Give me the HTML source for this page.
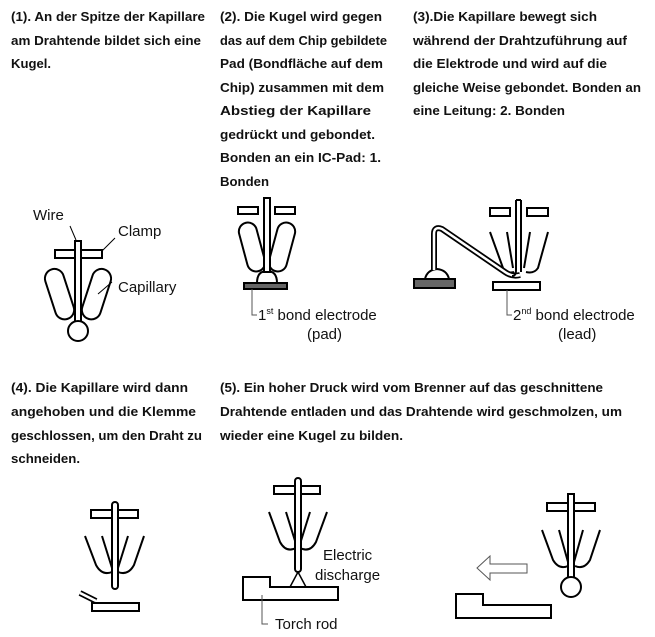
<!DOCTYPE html>
<html><head><meta charset="utf-8"><style>
html,body{margin:0;padding:0;background:#fff;width:655px;height:637px;overflow:hidden}
svg{display:block}
.t{font-family:"Liberation Sans",sans-serif;font-weight:bold;font-size:13px;fill:#111}
.l{font-family:"Liberation Sans",sans-serif;font-size:15px;fill:#111}
</style></head><body>
<svg width="655" height="637" viewBox="0 0 655 637" xmlns="http://www.w3.org/2000/svg">
<g class="t" >
<text x="11" y="21" textLength="194" lengthAdjust="spacingAndGlyphs" class="t">(1). An der Spitze der Kapillare</text>
<text x="11" y="45" textLength="190" lengthAdjust="spacingAndGlyphs" class="t">am Drahtende bildet sich eine</text>
<text x="11" y="68" textLength="40" lengthAdjust="spacingAndGlyphs" class="t">Kugel.</text>

<text x="220" y="21" textLength="162" lengthAdjust="spacingAndGlyphs" class="t">(2). Die Kugel wird gegen</text>
<text x="220" y="45" textLength="167" lengthAdjust="spacingAndGlyphs" class="t">das auf dem Chip gebildete</text>
<text x="220" y="68" textLength="163" lengthAdjust="spacingAndGlyphs" class="t">Pad (Bondfläche auf dem</text>
<text x="220" y="92" textLength="164" lengthAdjust="spacingAndGlyphs" class="t">Chip) zusammen mit dem</text>
<text x="220" y="115" textLength="151" lengthAdjust="spacingAndGlyphs" class="t">Abstieg der Kapillare</text>
<text x="220" y="139" textLength="155" lengthAdjust="spacingAndGlyphs" class="t">gedrückt und gebondet.</text>
<text x="220" y="162" textLength="161" lengthAdjust="spacingAndGlyphs" class="t">Bonden an ein IC-Pad: 1.</text>
<text x="220" y="186" textLength="49" lengthAdjust="spacingAndGlyphs" class="t">Bonden</text>

<text x="413" y="21" textLength="184" lengthAdjust="spacingAndGlyphs" class="t">(3).Die Kapillare bewegt sich</text>
<text x="413" y="45" textLength="214" lengthAdjust="spacingAndGlyphs" class="t">während der Drahtzuführung auf</text>
<text x="413" y="68" textLength="194" lengthAdjust="spacingAndGlyphs" class="t">die Elektrode und wird auf die</text>
<text x="413" y="92" textLength="228" lengthAdjust="spacingAndGlyphs" class="t">gleiche Weise gebondet. Bonden an</text>
<text x="413" y="115" textLength="152" lengthAdjust="spacingAndGlyphs" class="t">eine Leitung: 2. Bonden</text>

<text x="11" y="392" textLength="177" lengthAdjust="spacingAndGlyphs" class="t">(4). Die Kapillare wird dann</text>
<text x="11" y="416" textLength="185" lengthAdjust="spacingAndGlyphs" class="t">angehoben und die Klemme</text>
<text x="11" y="440" textLength="191" lengthAdjust="spacingAndGlyphs" class="t">geschlossen, um den Draht zu</text>
<text x="11" y="463" textLength="69" lengthAdjust="spacingAndGlyphs" class="t">schneiden.</text>

<text x="220" y="392" textLength="383" lengthAdjust="spacingAndGlyphs" class="t">(5). Ein hoher Druck wird vom Brenner auf das geschnittene</text>
<text x="220" y="416" textLength="402" lengthAdjust="spacingAndGlyphs" class="t">Drahtende entladen und das Drahtende wird geschmolzen, um</text>
<text x="220" y="440" textLength="183" lengthAdjust="spacingAndGlyphs" class="t">wieder eine Kugel zu bilden.</text>
</g>

<g fill="none" stroke="#000" stroke-width="2">
<!-- Fig 1 -->
<rect x="55" y="250" width="47" height="8" fill="#fff"/>
<rect x="50" y="268" width="19" height="52" rx="9.5" transform="rotate(-18 60 294)"/>
<rect x="87" y="268" width="19" height="52" rx="9.5" transform="rotate(18 96 294)"/>
<rect x="75" y="241" width="6" height="82" fill="#fff"/>
<circle cx="78" cy="331" r="10" fill="#fff"/>
<path d="M70 226 L76 240 M102 251 L115 238 M98 294 L112 282" stroke-width="1"/>

<!-- Fig 2 -->
<rect x="238" y="207" width="20" height="7"/>
<rect x="275" y="207" width="20" height="7"/>
<rect x="243" y="222" width="18" height="50" rx="9" transform="rotate(-15 252 247)"/>
<rect x="273" y="222" width="18" height="50" rx="9" transform="rotate(15 282 247)"/>
<path d="M257 283 Q257 271 267 271 Q277 271 277 283 Z" fill="#fff"/>
<rect x="264" y="198" width="6" height="74" fill="#fff"/>
<rect x="244" y="283" width="43" height="6" fill="#666"/>
<path d="M252 289 L252 315 L257 315" stroke="#555" stroke-width="1"/>

<!-- Fig 3 -->
<rect x="490" y="208" width="20" height="8"/>
<rect x="527" y="208" width="21" height="8"/>
<path d="M490 232 L503 268 Q507 274 514 272 M507 232 L513 268 M530 232 L524 268 M548 232 L538 268 Q534 274 526 272"/>
<rect x="414" y="279" width="41" height="9" fill="#666"/>
<path d="M425 279 Q427 270 437 269 Q447 270 449 279 Z" fill="#fff"/>
<path d="M434 270 L434 234 Q434 226 442 229 L505 272 Q512 277 520 275" stroke-width="6"/>
<path d="M434 270 L434 234 Q434 226 442 229 L505 272 Q512 277 520 275" stroke="#fff" stroke-width="2.5"/>
<path d="M516 200 L516 270 Q516 276 512 276 M521 200 L521 272" stroke-width="2"/>
<path d="M516 200 L521 200"/>
<rect x="493" y="282" width="47" height="8" fill="#fff"/>
<path d="M507 290 L507 315 L512 315" stroke="#555" stroke-width="1"/>

<!-- Fig 4 -->
<rect x="91" y="510" width="47" height="8"/>
<path d="M85 536 L96 565 Q102 576 112 572 M102 536 L112 568 M128 536 L118 568 M144 536 L134 565 Q128 576 118 572"/>
<rect x="112" y="502" width="6" height="87" rx="3" fill="#fff"/>
<rect x="92" y="603" width="47" height="8"/>
<path d="M80 593 L96 601" stroke-width="6"/>
<path d="M80 593 L96 601" stroke="#fff" stroke-width="2.5"/>

<!-- Fig 5 -->
<rect x="274" y="486" width="46" height="8"/>
<path d="M269 512 L280 542 Q286 553 296 548 M286 512 L296 544 M310 512 L300 544 M327 512 L316 542 Q310 553 300 548"/>
<rect x="295" y="478" width="6" height="94" rx="3" fill="#fff"/>
<path d="M298 572 L290 587 M298 572 L306 587" stroke-width="1.5"/>
<path d="M243 577 L270 577 L270 587 L338 587 L338 600 L243 600 Z"/>
<path d="M262 595 L262 624 L268 624" stroke="#555" stroke-width="1"/>

<!-- Fig 6 -->
<rect x="547" y="503" width="48" height="8"/>
<path d="M542 530 L553 560 Q559 570 568 566 M559 530 L568 562 M583 530 L574 562 M600 530 L590 560 Q584 570 575 566"/>
<rect x="568" y="494" width="6" height="84" fill="#fff"/>
<circle cx="571" cy="587" r="10" fill="#fff"/>
<path d="M477 568 L490 556 L490 564 L527 564 L527 573 L490 573 L490 580 Z" stroke="#555" stroke-width="1"/>
<path d="M456 594 L483 594 L483 605 L551 605 L551 618 L456 618 Z"/>
</g>

<g class="l">
<text x="33" y="220">Wire</text>
<text x="118" y="236">Clamp</text>
<text x="118" y="292">Capillary</text>
<text x="258" y="320">1<tspan font-size="9" dy="-6">st</tspan><tspan dy="6"> bond electrode</tspan></text>
<text x="307" y="339">(pad)</text>
<text x="513" y="320">2<tspan font-size="9" dy="-6">nd</tspan><tspan dy="6"> bond electrode</tspan></text>
<text x="558" y="339">(lead)</text>
<text x="323" y="560">Electric</text>
<text x="315" y="580">discharge</text>
<text x="275" y="629">Torch rod</text>
</g>
</svg>
</body></html>
